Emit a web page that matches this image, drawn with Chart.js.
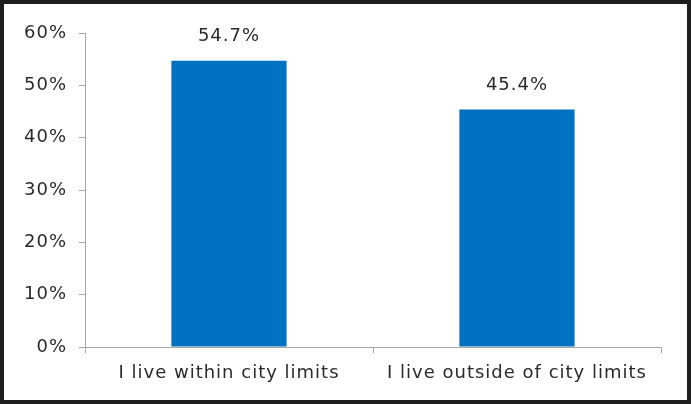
<!DOCTYPE html>
<html>
<head>
<meta charset="utf-8">
<script src="https://cdn.jsdelivr.net/npm/chart.js@4"></script>
<style>
  html, body { margin: 0; padding: 0; background: #fff; }
  #box {
    width: 691px; height: 404px; box-sizing: border-box;
    border: 4px solid #1e1e1e; background: #fff; position: relative;
  }
  #chart { display: block; }
</style>
</head>
<body>
<div id="box"><canvas id="chart" width="683" height="396"></canvas></div>
<script>
let categories = ["I live within city limits", "I live outside of city limits"];
let values = [54.7, 45.4];
let yTicks = [0, 10, 20, 30, 40, 50, 60];

let textColor = "#2b2b2b";
let axisColor = "#a6a6a6";
let fontFamily = "'DejaVu Sans', sans-serif";

// the reference font is wide, so spread the letters a bit
const spacing = {
  id: "spacing",
  beforeDraw(chart) { chart.ctx.letterSpacing = "1px"; }
};

// draws the percent value above each bar
const valueLabels = {
  id: "valueLabels",
  afterDatasetsDraw(chart) {
    const ctx = chart.ctx;
    const meta = chart.getDatasetMeta(0);
    ctx.save();
    ctx.fillStyle = textColor;
    ctx.font = "18px " + fontFamily;
    ctx.textAlign = "center";
    ctx.textBaseline = "middle";
    meta.data.forEach((bar, i) => {
      ctx.fillText(values[i].toFixed(1) + "%", bar.x, bar.y - 24);
    });
    ctx.restore();
  }
};

const ctx = document.getElementById("chart").getContext("2d");
const myChart = new Chart(ctx, {
  type: "bar",
  data: {
    labels: categories,
    datasets: [
      {
        data: values,
        backgroundColor: "#0070C0",
        barPercentage: 0.8,
        categoryPercentage: 0.5
      }
    ]
  },
  options: {
    responsive: false,
    animation: false,
    layout: { padding: { top: 29, right: 26, left: 0, bottom: 0 } },
    plugins: {
      legend: { display: false },
      tooltip: { enabled: false }
    },
    scales: {
      y: {
        min: 0,
        max: 60,
        afterBuildTicks(scale) {
          scale.ticks = yTicks.map(v => ({ value: v }));
        },
        afterFit(scale) { scale.width = 81; },
        border: { display: true, color: axisColor, width: 1 },
        grid: { drawOnChartArea: false, color: axisColor, tickLength: 6 },
        ticks: {
          color: textColor,
          font: { family: fontFamily, size: 18 },
          padding: 12,
          callback: v => v + "%"
        }
      },
      x: {
        afterFit(scale) { scale.height = 53; },
        border: { display: true, color: axisColor, width: 1 },
        grid: { drawOnChartArea: false, color: axisColor, tickLength: 6, offset: true },
        ticks: {
          color: textColor,
          font: { family: fontFamily, size: 18 },
          padding: 10,
          maxRotation: 0
        }
      }
    }
  },
  plugins: [spacing, valueLabels]
});
</script>
</body>
</html>
